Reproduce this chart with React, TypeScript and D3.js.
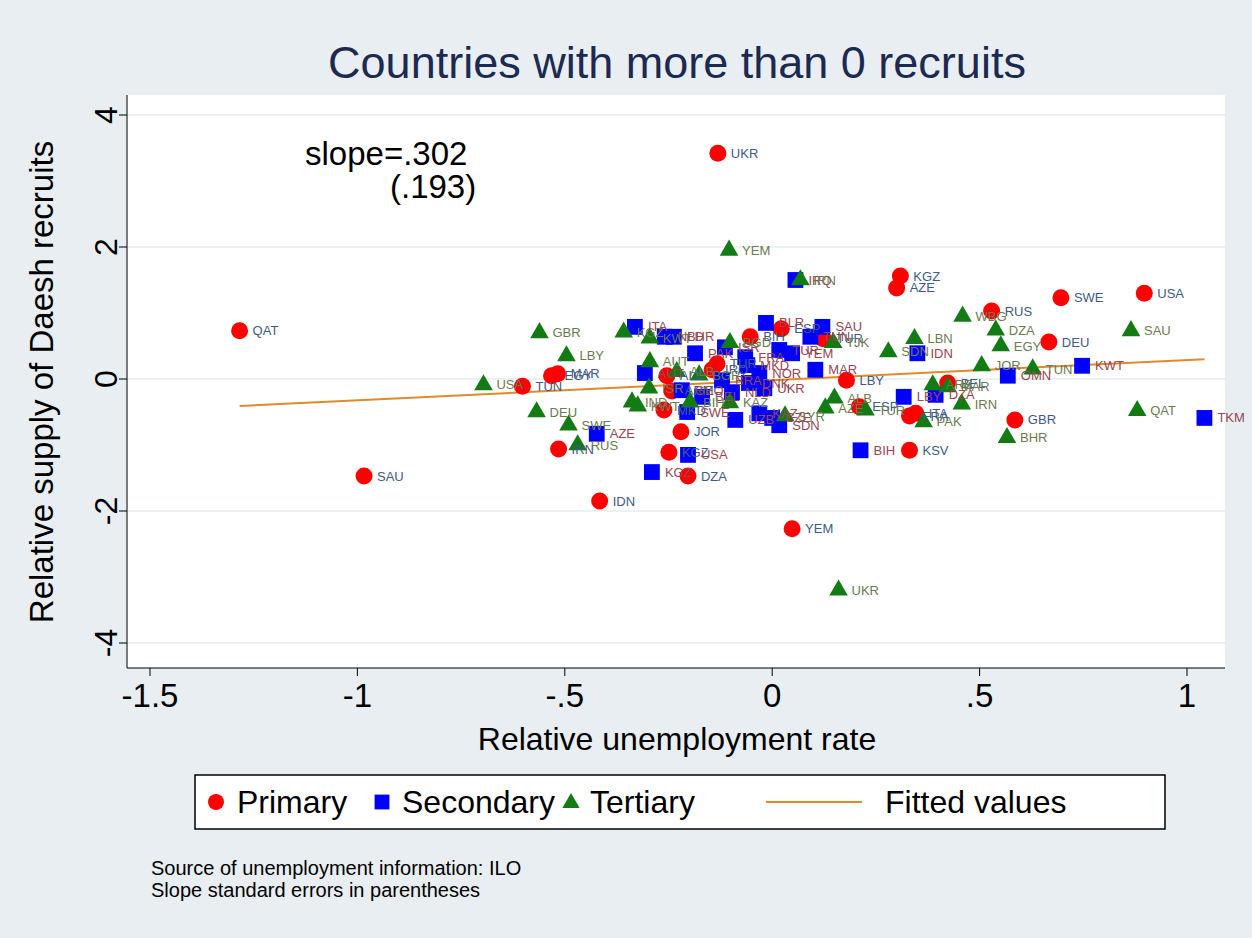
import * as d3 from "d3";

// Primary education recruits
const primaryX = [-1.284, -0.984, -0.602, -0.532, -0.517, -0.515, -0.416, -0.22, -0.249, -0.203, -0.131, 0.048, 0.309, 0.3, 0.529, 0.696, 0.897, 0.667, 0.585, 0.331, 0.331, 0.346, 0.423, 0.179, 0.21, 0.123, 0.022, -0.053, -0.133, -0.145, -0.254, -0.242, -0.261];
const primaryY = [0.73, -1.47, -0.11, 0.05, 0.08, -1.06, -1.85, -0.8, -1.11, -1.47, 3.42, -2.27, 1.56, 1.38, 1.03, 1.23, 1.3, 0.56, -0.62, -1.08, -0.56, -0.52, -0.06, -0.02, -0.42, 0.61, 0.76, 0.64, 0.23, 0.14, 0.05, -0.18, -0.47];
const primaryLab = ["QAT", "SAU", "TUN", "EGY", "MAR", "IRN", "IDN", "JOR", "KGZ", "DZA", "UKR", "YEM", "KGZ", "AZE", "RUS", "SWE", "USA", "DEU", "GBR", "KSV", "FRA", "ITA", "BEL", "LBY", "ESP", "TUR", "ESP", "BIH", "TUR", "IRQ", "ALB", "ARM", "MKD"];

// Secondary education recruits
const secondaryX = [1.042, 0.747, 0.568, 0.317, 0.394, 0.213, 0.35, 0.104, 0.056, -0.015, 0.121, 0.092, 0.017, 0.048, -0.065, -0.06, -0.331, -0.259, -0.237, -0.186, -0.307, -0.218, -0.169, -0.205, -0.089, -0.031, 0.0, 0.017, -0.114, -0.031, -0.056, -0.019, -0.121, -0.097, -0.423, -0.29, -0.203];
const secondaryY = [-0.59, 0.2, 0.05, -0.27, -0.24, -1.08, 0.39, 0.14, 1.5, 0.85, 0.79, 0.64, 0.44, 0.39, 0.33, 0.21, 0.79, 0.64, 0.64, 0.39, 0.09, -0.17, -0.27, -0.5, -0.62, -0.52, -0.59, -0.7, 0.48, 0.09, -0.06, -0.14, -0.02, -0.2, -0.83, -1.41, -1.15];
const secondaryLab = ["TKM", "KWT", "OMN", "LBY", "DZA", "BIH", "IDN", "MAR", "IRQ", "BLR", "SAU", "TUN", "TUR", "YEM", "FRA", "MKD", "ITA", "NLD", "BHR", "PAK", "AUT", "GEO", "BEL", "SWE", "UZB", "KAZ", "CZE", "SDN", "ISR", "NOR", "DNK", "UKR", "BRA", "NLD", "AZE", "KGZ", "USA"];

// Tertiary education recruits
const tertiaryX = [0.16, -0.104, 0.068, -0.561, -0.496, -0.696, -0.568, -0.491, -0.469, 0.459, 0.539, 0.551, 0.865, 0.88, 0.566, 0.457, 0.365, 0.343, 0.28, 0.147, 0.387, 0.423, 0.505, 0.628, 0.15, 0.128, 0.225, 0.031, -0.358, -0.295, -0.295, -0.23, -0.176, -0.297, -0.338, -0.324, -0.198, -0.102, -0.102];
const tertiaryY = [-3.2, 1.95, 1.5, 0.7, 0.35, -0.09, -0.5, -0.7, -1.0, 0.95, 0.74, 0.5, 0.73, -0.48, -0.89, -0.38, -0.65, 0.61, 0.41, 0.55, -0.09, -0.12, 0.2, 0.15, -0.29, -0.44, -0.47, -0.56, 0.71, 0.62, 0.26, 0.11, 0.06, -0.14, -0.35, -0.41, -0.35, -0.36, 0.55];
const tertiaryLab = ["UKR", "YEM", "IRN", "GBR", "LBY", "USA", "DEU", "SWE", "RUS", "WBG", "DZA", "EGY", "SAU", "QAT", "BHR", "IRN", "PAK", "LBN", "SDN", "TJK", "ARE", "MAR", "JOR", "TUN", "ALB", "AZE", "TUR", "SYR", "KGZ", "KWT", "AUT", "ALB", "BGR", "ISR", "IND", "KWT", "BIH", "KAZ", "BGD"];

// Fitted values (endpoints of the regression line)
const fitX = [-1.284, 1.042];
const fitY = [-0.41, 0.3];

const xTicks = [-1.5, -1, -0.5, 0, 0.5, 1];
const xTickLabels = ["-1.5", "-1", "-.5", "0", ".5", "1"];
const yTicks = [-4, -2, 0, 2, 4];
const yTickLabels = ["-4", "-2", "0", "2", "4"];

const W = 1252;
const H = 938;
const FONT = "Liberation Sans, Arial, sans-serif";

export default function App() {
  const x = d3.scaleLinear().domain([-1.5, 1]).range([150, 1187]);
  const y = d3.scaleLinear().domain([-4, 4]).range([643, 115]);

  const plotLeft = 127;
  const plotRight = 1225;
  const plotTop = 95;
  const plotBottom = 668;

  const triPath = d3.symbol(d3.symbolTriangle, 150)() || "";
  const sqPath = d3.symbol(d3.symbolSquare, 250)() || "";
  const line = d3
    .line<number>()
    .x((d) => x(d))
    .y((_, i) => y(fitY[i]));

  const red = "#ff0000";
  const blue = "#0000ff";
  const green = "#137b13";
  const labPrimary = "#3e5a85";
  const labSecondary = "#984552";
  const labTertiary = "#6b7a50";

  const label = (px: number, py: number, t: string, c: string, k: string) => (
    <text key={k} x={x(px) + 13} y={y(py)} dy="0.35em" fontSize={13} fill={c} fontFamily={FONT}>
      {t}
    </text>
  );

  return (
    <svg
      width={W}
      height={H}
      style={{ position: "absolute", left: 0, top: 0, display: "block" }}
    >
      <rect x={0} y={0} width={W} height={H} fill="#e8eef2" />
      <rect x={plotLeft} y={plotTop} width={plotRight - plotLeft} height={plotBottom - plotTop} fill="#ffffff" />

      {/* title */}
      <text x={677} y={78} textAnchor="middle" fontSize={45} fill="#1c2a52" fontFamily={FONT}>
        Countries with more than 0 recruits
      </text>

      {/* grid */}
      {yTicks.map((t) => (
        <line key={"g" + t} x1={plotLeft} x2={plotRight} y1={y(t)} y2={y(t)} stroke="#e6eef0" strokeWidth={1.5} />
      ))}

      {/* axes */}
      <line x1={plotLeft} x2={plotLeft} y1={plotTop} y2={plotBottom} stroke="#000" strokeWidth={1} />
      <line x1={plotLeft} x2={plotRight} y1={plotBottom} y2={plotBottom} stroke="#000" strokeWidth={1} />
      {yTicks.map((t, i) => (
        <g key={"yt" + t}>
          <line x1={plotLeft - 8} x2={plotLeft} y1={y(t)} y2={y(t)} stroke="#000" />
          <text
            transform={`translate(${plotLeft - 10},${y(t)}) rotate(-90)`}
            textAnchor="middle"
            fontSize={32}
            fontFamily={FONT}
          >
            {yTickLabels[i]}
          </text>
        </g>
      ))}
      {xTicks.map((t, i) => (
        <g key={"xt" + t}>
          <line x1={x(t)} x2={x(t)} y1={plotBottom} y2={plotBottom + 8} stroke="#000" />
          <text x={x(t)} y={plotBottom + 39} textAnchor="middle" fontSize={33} fontFamily={FONT}>
            {xTickLabels[i]}
          </text>
        </g>
      ))}
      <text x={677} y={750} textAnchor="middle" fontSize={32} fontFamily={FONT}>
        Relative unemployment rate
      </text>
      <text transform="translate(53,382) rotate(-90)" textAnchor="middle" fontSize={33} fontFamily={FONT}>
        Relative supply of Daesh recruits
      </text>

      {/* fitted line */}
      <path d={line(fitX) || ""} fill="none" stroke="#e08a2c" strokeWidth={2} />

      {/* markers */}
      {primaryX.map((v, i) => (
        <circle key={"p" + i} cx={x(v)} cy={y(primaryY[i])} r={8.5} fill={red} />
      ))}
      {secondaryX.map((v, i) => (
        <path key={"s" + i} d={sqPath} transform={`translate(${x(v)},${y(secondaryY[i])})`} fill={blue} />
      ))}
      {tertiaryX.map((v, i) => (
        <path key={"t" + i} d={triPath} transform={`translate(${x(v)},${y(tertiaryY[i])})`} fill={green} />
      ))}

      {/* labels */}
      {primaryX.map((v, i) => label(v, primaryY[i], primaryLab[i], labPrimary, "pl" + i))}
      {secondaryX.map((v, i) => label(v, secondaryY[i], secondaryLab[i], labSecondary, "sl" + i))}
      {tertiaryX.map((v, i) => label(v, tertiaryY[i], tertiaryLab[i], labTertiary, "tl" + i))}

      {/* slope annotation */}
      <text x={305} y={165} fontSize={33} fontFamily={FONT}>
        slope=.302
      </text>
      <text x={390} y={198} fontSize={33} fontFamily={FONT}>
        (.193)
      </text>

      {/* legend */}
      <rect x={195} y={775} width={970} height={54} fill="#fff" stroke="#000" strokeWidth={1.5} />
      <circle cx={216} cy={802} r={8} fill={red} />
      <text x={237} y={813} fontSize={32} fontFamily={FONT}>Primary</text>
      <path d={d3.symbol(d3.symbolSquare, 220)() || ""} transform="translate(382,802)" fill={blue} />
      <text x={402} y={813} fontSize={32} fontFamily={FONT}>Secondary</text>
      <path d={d3.symbol(d3.symbolTriangle, 130)() || ""} transform="translate(571,803)" fill={green} />
      <text x={590} y={813} fontSize={32} fontFamily={FONT}>Tertiary</text>
      <line x1={766} x2={862} y1={802} y2={802} stroke="#e08a2c" strokeWidth={2} />
      <text x={885} y={813} fontSize={32} fontFamily={FONT}>Fitted values</text>

      {/* notes */}
      <text x={151} y={875} fontSize={20} fontFamily={FONT}>Source of unemployment information: ILO</text>
      <text x={151} y={897} fontSize={20} fontFamily={FONT}>Slope standard errors in parentheses</text>
    </svg>
  );
}
